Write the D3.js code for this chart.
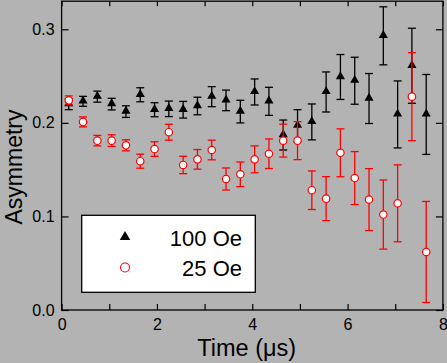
<!DOCTYPE html>
<html>
<head>
<meta charset="utf-8">
<script src="https://cdn.jsdelivr.net/npm/d3@7"></script>
<style>
  body { margin: 0; background: #b3b3b3; }
  svg { display: block; font-family: "Liberation Sans", Arial, sans-serif; }
</style>
</head>
<body>
<div id="chart"></div>
<script>
// time points (microseconds)
var times = [0.15, 0.45, 0.75, 1.05, 1.35, 1.65, 1.95, 2.25, 2.55, 2.85, 3.15, 3.45, 3.75,
             4.05, 4.35, 4.65, 4.95, 5.25, 5.55, 5.85, 6.15, 6.45, 6.75, 7.05, 7.35, 7.65];

// 100 Oe
var asy100 = [0.220, 0.223, 0.228, 0.220, 0.212, 0.230, 0.214, 0.215, 0.214, 0.218, 0.228, 0.224, 0.212,
              0.233, 0.223, 0.187, 0.197, 0.201, 0.233, 0.249, 0.245, 0.226, 0.293, 0.209, 0.261, 0.209];
var err100 = [0.0059, 0.0053, 0.0059, 0.0062, 0.0062, 0.0075, 0.0075, 0.0083, 0.0089, 0.0094, 0.0107, 0.0110, 0.0121,
              0.0139, 0.0150, 0.0160, 0.0171, 0.0192, 0.0214, 0.0240, 0.0251, 0.0267, 0.0310, 0.0358, 0.0401, 0.0427];

// 25 Oe
var asy25 = [0.224, 0.201, 0.181, 0.181, 0.176, 0.159, 0.172, 0.190, 0.155, 0.161, 0.171, 0.140, 0.145,
             0.161, 0.167, 0.181, 0.181, 0.128, 0.119, 0.168, 0.141, 0.118, 0.102, 0.114, 0.228, 0.062];
var err25 = [0.0048, 0.0053, 0.0056, 0.0062, 0.0059, 0.0075, 0.0078, 0.0085, 0.0093, 0.0105, 0.0105, 0.0118, 0.0131,
             0.0144, 0.0158, 0.0176, 0.0203, 0.0206, 0.0235, 0.0256, 0.0283, 0.0331, 0.0369, 0.0411, 0.0470, 0.0540];

var xTicks = [0, 1, 2, 3, 4, 5, 6, 7, 8];
var yTicks = [0.0, 0.1, 0.2, 0.3];
var legendLabels = ["100 Oe", "25 Oe"];

var W = 447, H = 363;
var margin = {top: 1.2, right: 4.1, bottom: 53, left: 61.6},
    width = W - margin.left - margin.right,
    height = H - margin.top - margin.bottom;

var svg = d3.select("#chart").append("svg")
    .attr("width", W)
    .attr("height", H);

svg.append("rect").attr("width", W).attr("height", H).attr("fill", "#b3b3b3");

var g = svg.append("g")
    .attr("transform", "translate(" + margin.left + "," + margin.top + ")");

var x = d3.scaleLinear().domain([0, 8]).range([0, width]);
var y = d3.scaleLinear().domain([0, 0.33]).range([height, 0]);

// axes, ticks inside
var axBottom = g.append("g")
    .attr("transform", "translate(0," + height + ")")
    .call(d3.axisBottom(x).tickValues(xTicks).tickSizeInner(-6).tickSizeOuter(0).tickPadding(9)
        .tickFormat(function(d) { return d % 2 == 0 ? d : ""; }));
var axTop = g.append("g")
    .call(d3.axisTop(x).tickValues(xTicks).tickSizeInner(-5).tickSizeOuter(0).tickFormat(""));
var axLeft = g.append("g")
    .call(d3.axisLeft(y).tickValues(yTicks).tickSizeInner(-7).tickSizeOuter(0).tickPadding(7)
        .tickFormat(d3.format(".1f")));
var axRight = g.append("g")
    .attr("transform", "translate(" + width + ",0)")
    .call(d3.axisRight(y).tickValues(yTicks).tickSizeInner(-7).tickSizeOuter(0).tickFormat(""));

[axBottom, axTop, axLeft, axRight].forEach(function(a) {
  a.attr("font-size", 16).attr("font-family", "Liberation Sans, Arial, sans-serif");
  a.selectAll("text").attr("fill", "#000");
  a.selectAll("line").attr("stroke", "#000").attr("stroke-width", 1.2);
  a.select(".domain").remove();
});

g.append("rect")
    .attr("width", width).attr("height", height)
    .attr("fill", "none").attr("stroke", "#000").attr("stroke-width", 1.3);

// error bars + markers
function drawSeries(vals, errs, color, cls) {
  var data = times.map(function(t, i) { return {t: t, v: vals[i], e: errs[i]}; });
  var s = g.append("g").attr("class", cls);
  var eb = s.selectAll("g.eb").data(data).enter().append("g").attr("class", "eb")
      .attr("stroke", color).attr("stroke-width", 1.3);
  eb.append("line")
      .attr("x1", function(d) { return x(d.t); }).attr("x2", function(d) { return x(d.t); })
      .attr("y1", function(d) { return y(d.v - d.e); }).attr("y2", function(d) { return y(d.v + d.e); });
  eb.append("line")
      .attr("x1", function(d) { return x(d.t) - 4; }).attr("x2", function(d) { return x(d.t) + 4; })
      .attr("y1", function(d) { return y(d.v + d.e); }).attr("y2", function(d) { return y(d.v + d.e); });
  eb.append("line")
      .attr("x1", function(d) { return x(d.t) - 4; }).attr("x2", function(d) { return x(d.t) + 4; })
      .attr("y1", function(d) { return y(d.v - d.e); }).attr("y2", function(d) { return y(d.v - d.e); });
  return {sel: s, data: data};
}

var tri = d3.symbol().type(d3.symbolTriangle).size(36);

var s100 = drawSeries(asy100, err100, "#000", "s100");
s100.sel.selectAll("path.m").data(s100.data).enter().append("path").attr("class", "m")
    .attr("d", tri)
    .attr("transform", function(d) { return "translate(" + x(d.t) + "," + (y(d.v) - 0.5) + ")"; })
    .attr("fill", "#000");

var s25 = drawSeries(asy25, err25, "#ff0000", "s25");
s25.sel.selectAll("circle.m").data(s25.data).enter().append("circle").attr("class", "m")
    .attr("cx", function(d) { return x(d.t); })
    .attr("cy", function(d) { return y(d.v); })
    .attr("r", 3.7)
    .attr("fill", "#fff").attr("stroke", "#ff0000").attr("stroke-width", 1.2);

// legend
var lg = svg.append("g");
lg.append("rect")
    .attr("x", 81.7).attr("y", 215.3).attr("width", 173.6).attr("height", 77)
    .attr("fill", "#fff").attr("stroke", "#000").attr("stroke-width", 1.3);
lg.append("path")
    .attr("d", d3.symbol().type(d3.symbolTriangle).size(48))
    .attr("transform", "translate(125,237)")
    .attr("fill", "#000");
lg.append("circle")
    .attr("cx", 125).attr("cy", 267.5).attr("r", 4.5)
    .attr("fill", "#fff").attr("stroke", "#ff0000").attr("stroke-width", 1.1);
lg.selectAll("text").data(legendLabels).enter().append("text")
    .attr("x", 242)
    .attr("y", function(d, i) { return 246 + i * 30.3; })
    .attr("text-anchor", "end")
    .attr("font-size", 22)
    .text(function(d) { return d; });

// axis titles
svg.append("text")
    .attr("transform", "translate(22,167) rotate(-90)")
    .attr("text-anchor", "middle")
    .attr("font-size", 23)
    .text("Asymmetry");
svg.append("text")
    .attr("x", 246.7).attr("y", 356)
    .attr("text-anchor", "middle")
    .attr("font-size", 23.5)
    .text("Time (μs)");
</script>
</body>
</html>
